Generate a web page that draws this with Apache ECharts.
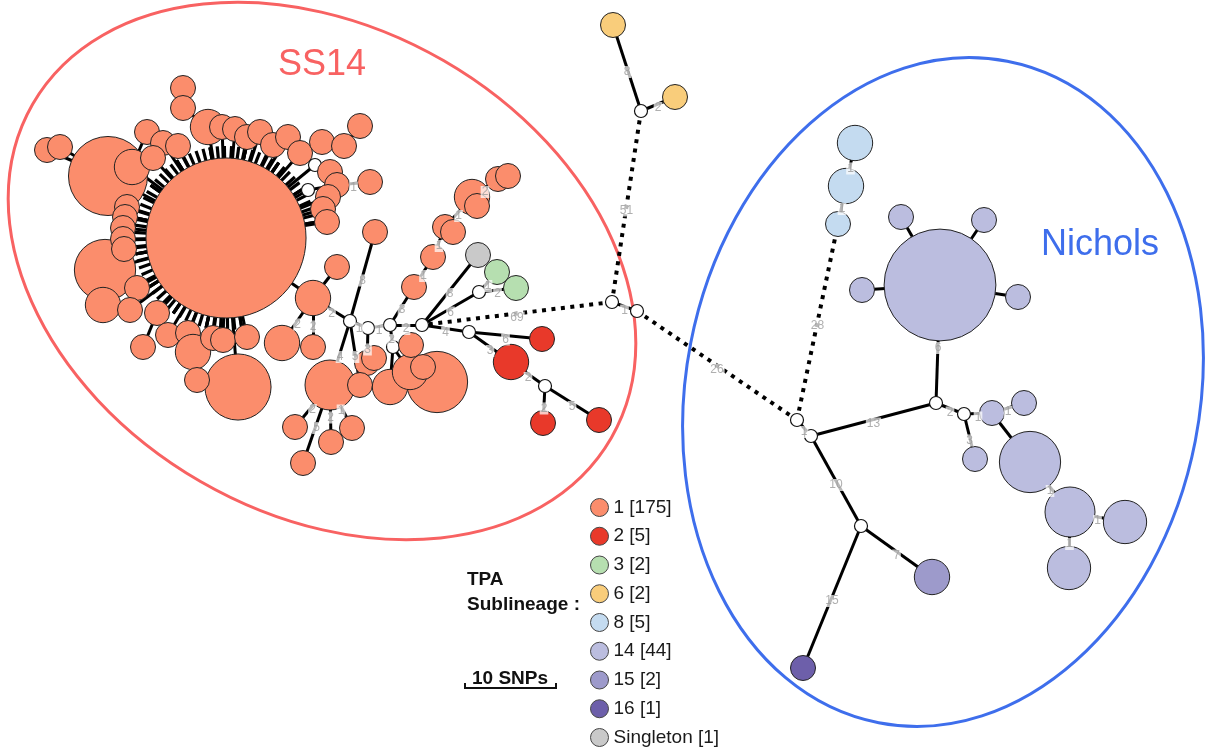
<!DOCTYPE html>
<html><head><meta charset="utf-8">
<script src="https://cdn.jsdelivr.net/npm/echarts@6/dist/echarts.min.js"></script>
<style>html,body{margin:0;padding:0;background:#fff}#c{width:1207px;height:754px}</style>
</head><body><div id="c"></div>
<script>
// ---- TPA sublineages (legend) ----
const groups = ['1','2','3','6','8','14','15','16','Singleton'];
const groupCounts = [175,5,2,2,5,44,2,1,1];
const groupColors = ['#FB8D6C','#E8392A','#B6DFB0','#F9CD7B','#C4DBF0','#BBBDDF','#9D9ACB','#6D5FAA','#C9C9C9'];

// ---- nodes: [id, x, y, isolates, group]  ('h' = hypothetical node) ----
const ss14Nodes = [
  ['C',226,238,41,'1'],
  ['a3',108,176,10,'1'],['b6',105,270,6,'1'],['b18',238,387,7,'1'],
  ['a1',47,150,1,'1'],['a2',60,147,1,'1'],['a4',132,167,2,'1'],
  ['a5',183,88,1,'1'],['a6',183,108,1,'1'],['a7',208,127,2,'1'],
  ['a8',147,132,1,'1'],['a9',163,143,1,'1'],['a10',178,146,1,'1'],['a27',153,158,1,'1'],
  ['a11',222,127,1,'1'],['a12',235,129,1,'1'],['a13',247,137,1,'1'],['a14',260,132,1,'1'],
  ['a15',273,145,1,'1'],['a16',288,137,1,'1'],['a17',300,153,1,'1'],['a18',322,142,1,'1'],
  ['a19',344,146,1,'1'],['a20',360,126,1,'1'],
  ['h7',315,165,0,'h'],['h6',308,190,0,'h'],
  ['a21',330,172,1,'1'],['a22',337,185,1,'1'],['a23',328,197,1,'1'],['a24',323,209,1,'1'],
  ['a25',327,222,1,'1'],['a26',370,182,1,'1'],
  ['b1',127,207,1,'1'],['b2',125,217,1,'1'],['b3',123,228,1,'1'],['b4',123,239,1,'1'],['b5',124,249,1,'1'],
  ['b7',103,305,2,'1'],['b8',137,288,1,'1'],['b9',130,310,1,'1'],['b10',157,313,1,'1'],
  ['b11',143,347,1,'1'],['b12',168,335,1,'1'],['b13',188,333,1,'1'],['b14',193,352,2,'1'],
  ['b15',213,338,1,'1'],['b16',223,340,1,'1'],['b17',247,337,1,'1'],['b19',197,380,1,'1'],
  ['c1',313,298,2,'1'],['c2',337,267,1,'1'],['c3',375,232,1,'1'],['c20',282,343,2,'1'],['c21',313,347,1,'1'],
  ['h1',350,321,0,'h'],['h2',368,328,0,'h'],['h3',390,325,0,'h'],['h4',393,347,0,'h'],['h5',422,325,0,'h'],
  ['q9',437,382,6,'1'],['q1',330,385,4,'1'],
  ['q2',295,427,1,'1'],['q3',331,442,1,'1'],['q4',352,428,1,'1'],['q5',303,463,1,'1'],
  ['q6',367,363,1,'1'],['q6b',374,358,1,'1'],['q7',360,385,1,'1'],['q8',390,387,2,'1'],
  ['q11',410,372,2,'1'],['q10',411,345,1,'1'],['q12',423,367,1,'1'],
  ['c4',414,287,1,'1'],['c5',433,257,1,'1'],['c6',445,227,1,'1'],['c6b',453,232,1,'1'],
  ['c7',472,197,2,'1'],['c7b',477,206,1,'1'],['c8',498,179,1,'1'],['c9',508,176,1,'1'],
  ['s1',478,255,1,'Singleton'],
  ['hG',479,292,0,'h'],['g1',497,272,1,'3'],['g2',516,288,1,'3'],
  ['hR1',469,332,0,'h'],['r1',542,339,1,'2'],['r2',511,362,2,'2'],['hR2',545,386,0,'h'],
  ['r3',543,423,1,'2'],['r4',599,420,1,'2']
];
const bridgeNodes = [
  ['hA',612,302,0,'h'],['hB',637,311,0,'h'],['hY',641,111,0,'h'],
  ['y1',613,25,1,'6'],['y2',675,97,1,'6']
];
const nicholsNodes = [
  ['hN1',797,420,0,'h'],['hN2',811,436,0,'h'],['hN3',936,403,0,'h'],['hN4',964,414,0,'h'],['hN5',861,526,0,'h'],
  ['l1',855,143,2,'8'],['l2',846,186,2,'8'],['l3',838,224,1,'8'],
  ['n0',940,285,20,'14'],['n1',901,217,1,'14'],['n2',984,220,1,'14'],['n3',862,290,1,'14'],['n4',1018,297,1,'14'],
  ['n5',992,413,1,'14'],['n6',1024,403,1,'14'],['n7',975,459,1,'14'],['n8',1030,462,6,'14'],
  ['n9',1070,512,4,'14'],['n10',1125,522,3,'14'],['n11',1069,568,3,'14'],
  ['p1',932,577,2,'15'],['p2',803,668,1,'16']
];

// ---- links: [source, target, SNPs (null = label not shown)] ----
const ss14Links = [
  ['C','a3',null],['a3','a1',null],['a3','a2',null],['C','a4',null],['a4','a8',null],['C','a7',null],
  ['a7','a6',null],['a6','a5',null],['C','a9',null],['C','a10',null],['C','a27',null],['C','a11',null],
  ['C','a12',null],['C','a13',null],['C','a14',null],['C','a15',null],['C','a16',null],['C','a17',null],
  ['a17','a18',null],['a18','a19',null],['a19','a20',null],['C','h7',null],['h7','a21',null],
  ['C','h6',null],['h6','a22',null],['a22','a26',1],['C','a23',null],['C','a24',null],['C','a25',null],
  ['C','b1',null],['C','b2',null],['C','b3',null],['C','b4',null],['C','b5',null],['C','b6',null],
  ['b6','b7',null],['C','b8',null],['C','b9',null],['C','b10',null],['b10','b11',null],['C','b12',null],
  ['C','b13',null],['b13','b14',null],['C','b15',null],['C','b16',null],['C','b17',null],['C','b18',null],
  ['b18','b19',null],['C','c1',null],['c1','c2',null],['c1','c20',2],['c1','c21',2],['c1','h1',2],
  ['h1','c3',8],['h1','q1',4],['h1','q7',5],['h1','h2',1],['h2','q6',3],['q6','q6b',null],['h2','h3',1],
  ['h3','h4',2],['h4','q8',null],['h4','q11',null],['q11','q10',null],['q11','q12',null],['q8','q9',null],
  ['h3','h5',2],['h3','c4',3],['c4','c5',1],['c5','c6',1],['c6','c6b',null],['c6','c7',1],['c7','c7b',null],
  ['c7','c8',2],['c8','c9',null],['q1','q2',2],['q1','q3',2],['q1','q4',1],['q1','q5',5],
  ['h5','s1',8],['h5','hG',6],['hG','g1',1],['hG','g2',2],['h5','hR1',4],['hR1','r1',6],['hR1','r2',3],
  ['r2','hR2',2],['hR2','r3',2],['hR2','r4',5]
];
const bridgeLinks = [
  ['hY','y1',8],['hY','y2',2],['hY','hA',51],['hA','h5',69],['hA','hB',1],['hB','hN1',26]
];
const nicholsLinks = [
  ['hN1','hN2',1],['hN1','l3',28],['l3','l2',1],['l2','l1',1],['hN2','hN3',13],['hN3','n0',6],
  ['n0','n1',null],['n0','n2',null],['n0','n3',null],['n0','n4',null],['hN3','hN4',2],['hN4','n5',1],
  ['hN4','n7',3],['n5','n6',1],['n5','n8',null],['n8','n9',1],['n9','n10',1],['n9','n11',1],
  ['hN2','hN5',10],['hN5','p1',7],['hN5','p2',15]
];

// ---- build ----
const FONT = 'Liberation Sans, Arial, Helvetica, sans-serif';
const allNodes = ss14Nodes.concat(bridgeNodes, nicholsNodes);
const allLinks = ss14Links.concat(bridgeLinks, nicholsLinks);
const byId = {}; allNodes.forEach(n => byId[n[0]] = n);
const UNIT = 25; // symbol diameter for one isolate
const catOf = g => g === 'h' ? groups.length : groups.indexOf(g);

const categories = groups.map((g,i) => ({name:g, itemStyle:{color:groupColors[i], borderColor:'#222', borderWidth:1}}))
  .concat([{name:'hypothetical', itemStyle:{color:'#fff', borderColor:'#111', borderWidth:1.2}}]);

const nodeData = allNodes.map(n => ({
  name:n[0], value:[n[1],n[2]], category:catOf(n[4]),
  symbolSize: n[3] > 0 ? UNIT*Math.sqrt(n[3]) : 13
}));
const linkData = allLinks.map(l => ({
  source:l[0], target:l[1], value:l[2],
  lineStyle: (l[2] != null && l[2] > 20) ? {type:[4,5.5], width:4, cap:'butt'} : {type:'solid', width:3}
}));
const labelData = allLinks.filter(l => l[2] != null).map(l => {
  const a = byId[l[0]], b = byId[l[1]];
  return [(a[1]+b[1])/2, (a[2]+b[2])/2, l[2]];
});
const hub = byId['C'];

const chart = echarts.init(document.getElementById('c'));
chart.setOption({
  animation:false,
  textStyle:{fontFamily:FONT},
  grid:{left:0,right:0,top:0,bottom:0},
  xAxis:{type:'value',min:0,max:1207,show:false},
  yAxis:{type:'value',min:0,max:754,inverse:true,show:false},
  legend:{
    data:groups, orient:'vertical', left:590, top:498, padding:0, height:256,
    itemWidth:18, itemHeight:18, itemGap:9.75,
    icon:'circle', selectedMode:false,
    itemStyle:{borderColor:'#444', borderWidth:1},
    textStyle:{fontSize:19, color:'#1a1a1a', fontFamily:FONT},
    formatter: name => name + ' [' + groupCounts[groups.indexOf(name)] + ']'
  },
  series:[
    {type:'gauge', silent:true, z:1, center:[hub[1],hub[2]], radius:92, startAngle:280, endAngle:10,
     min:0, max:60, splitNumber:12,
     axisLine:{show:false, lineStyle:{width:0}},
     axisTick:{show:true, splitNumber:5, distance:0, length:12, lineStyle:{color:'#000', width:3.2}},
     splitLine:{show:true, distance:0, length:12, lineStyle:{color:'#000', width:3.2}},
     axisLabel:{show:false}, pointer:{show:false}, anchor:{show:false}, title:{show:false}, detail:{show:false},
     data:[]},
    {type:'graph', coordinateSystem:'cartesian2d', z:2, silent:true,
     categories:categories, data:nodeData, links:linkData,
     label:{show:false}, edgeLabel:{show:false},
     lineStyle:{color:'#000', width:3, opacity:1, curveness:0},
     emphasis:{disabled:true}},
    {type:'scatter', z:3, silent:true, symbolSize:1, itemStyle:{color:'rgba(0,0,0,0)'},
     data:labelData,
     label:{show:true, position:'inside', offset:[0,4], formatter:p => String(p.value[2]),
            color:'#9b9b9b', fontSize:12, fontFamily:FONT, backgroundColor:'rgba(255,255,255,0.9)', padding:[0,1], lineHeight:12}}
  ]
});

// annotations placed through the chart's own coordinate conversion
const px = (x,y) => chart.convertToPixel({gridIndex:0},[x,y]);
const e1 = px(322,271), e2 = px(943,392);
const t1 = px(322,65), t2 = px(1100,245);
chart.setOption({
  graphic:[
    {type:'ellipse', x:e1[0], y:e1[1], rotation:-30*Math.PI/180, shape:{cx:0,cy:0,rx:334,ry:243},
     style:{fill:'none', stroke:'#F86262', lineWidth:3}, z:0, silent:true},
    {type:'ellipse', x:e2[0], y:e2[1], rotation:-11*Math.PI/180, shape:{cx:0,cy:0,rx:257,ry:337},
     style:{fill:'none', stroke:'#3E6EEC', lineWidth:3}, z:0, silent:true},
    {type:'text', x:t1[0], y:t1[1], style:{text:'SS14', fill:'#F86262', font:'36px '+FONT, textAlign:'center', textVerticalAlign:'middle', verticalAlign:'middle'}},
    {type:'text', x:t2[0], y:t2[1], style:{text:'Nichols', fill:'#3E6EEC', font:'36px '+FONT, textAlign:'center', textVerticalAlign:'middle', verticalAlign:'middle'}},
    {type:'text', x:467, y:580, style:{text:'TPA', fill:'#111', font:'bold 19px '+FONT, textAlign:'left', textVerticalAlign:'middle', verticalAlign:'middle'}},
    {type:'text', x:467, y:605, style:{text:'Sublineage :', fill:'#111', font:'bold 19px '+FONT, textAlign:'left', textVerticalAlign:'middle', verticalAlign:'middle'}},
    {type:'text', x:510, y:679, style:{text:'10 SNPs', fill:'#111', font:'bold 19px '+FONT, textAlign:'center', textVerticalAlign:'middle', verticalAlign:'middle'}},
    {type:'polyline', shape:{points:[[465,683],[465,688],[556,688],[556,683]]}, style:{fill:'none', stroke:'#111', lineWidth:2}}
  ]
});
</script></body></html>
